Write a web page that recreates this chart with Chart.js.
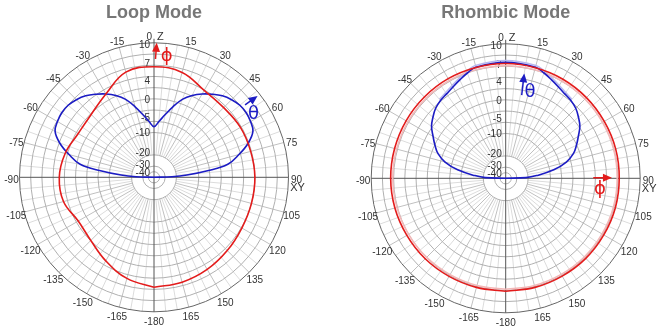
<!DOCTYPE html>
<html>
<head>
<meta charset="utf-8">
<script src="https://cdn.jsdelivr.net/npm/chart.js@4.4.1/dist/chart.umd.min.js"></script>
<style>
html, body { margin: 0; padding: 0; background: #fff; }
#wrap { position: relative; width: 661px; height: 330px; }
.box { position: absolute; top: 0; height: 330px; }
</style>
</head>
<body>
<div id="wrap">
  <div class="box" style="left:0;width:330px"><canvas id="loopChart"></canvas></div>
  <div class="box" style="left:330px;width:331px"><canvas id="rhombicChart"></canvas></div>
</div>
<script>
// 目盛り
const dbTicks = [10, 7, 4, 0, -5, -10, -20, -30, -40];
const angleLabels = [0, 15, 30, 45, 60, 75, 90, 105, 120, 135, 150, 165,
                     -180, -165, -150, -135, -120, -105, -90, -75, -60, -45, -30, -15];

// Loop Mode (dB)
const loopPhiAngles = [-180, -165, -150, -135, -120, -105, -90, -75, -60, -45, -30, -15,
                       0, 15, 30, 45, 60, 75, 90, 105, 120, 135, 150, 165, 180];
const loopPhi = [6.15, 5.2, 3.65, 2.2, 1.8, 3.1, 3.3, 2.75, 1.8, 2.1, 3.6, 5.95,
                 6.25, 5.9, 4.4, 4.05, 4.3, 4.35, 4.5, 4.5, 4.6, 5.0, 5.5, 5.9, 6.15];
const loopThetaAngles = [-90, -88, -86, -83, -80, -75, -70, -65, -60, -55, -50, -45, -40, -35, -30, -25, -20, -15, -10, -5,
                         0, 5, 10, 15, 20, 25, 30, 35, 40, 45, 50, 55, 60, 65, 70, 75, 80, 83, 86, 88, 90];
const loopTheta = [-60, -25.9, -15.9, -7.2, -1.1, 1.9, 4.4, 6.0, 6.4, 6.6, 6.5, 6.1, 5.5, 4.6, 3.6, 2.4, 0.8, -1.6, -4.2, -6.5,
                   -8.3, -6.5, -4.2, -1.6, 0.8, 2.4, 3.6, 4.6, 5.5, 6.1, 6.5, 6.6, 6.4, 6.0, 4.4, 1.9, -1.1, -7.2, -15.9, -25.9, -60];

// Rhombic Mode (dB)
const rhombicPhiAngles = loopPhiAngles;
const rhombicPhi = [6.65, 6.65, 6.7, 6.8, 6.85, 6.95, 7.0, 7.0, 7.0, 7.0, 7.0, 6.95,
                    6.95, 6.9, 6.9, 6.85, 6.8, 6.8, 6.75, 6.75, 6.7, 6.7, 6.65, 6.65, 6.65];
const rhombicPhiGhost = [6.3, 6.3, 6.35, 6.45, 6.5, 6.6, 6.65, 6.65, 6.65, 6.65, 6.65, 6.6,
                         6.6, 6.55, 6.55, 6.5, 6.45, 6.45, 6.4, 6.4, 6.35, 6.35, 6.3, 6.3, 6.3];
const rhombicThetaAngles = [-90, -88, -85, -80, -75, -70, -65, -60, -55, -50, -45, -40, -35, -30, -25, -20, -15,
                            0, 15, 20, 25, 30, 35, 40, 45, 50, 55, 60, 65, 70, 75, 80, 85, 88, 90];
const rhombicTheta = [-60, -24, -17, -9, -4.4, -1.85, -0.35, 1.0, 2.45, 3.35, 4.15, 4.6, 4.9, 5.35, 5.9, 6.5, 7.0,
                      7.15, 7.0, 6.5, 5.9, 5.35, 4.9, 4.6, 4.15, 3.35, 2.45, 1.0, -0.35, -1.85, -4.4, -9, -17, -24, -60];
const rhombicThetaGhostAngles = [-40, -35, -30, -25, -20, -15, 0, 15, 20, 25, 30, 35, 40];
const rhombicThetaGhost = [4.9, 5.2, 5.65, 6.2, 6.8, 7.3, 7.45, 7.3, 6.8, 6.2, 5.65, 5.2, 4.9];

const RED = "#e31b1b";
const BLUE = "#1c1cc4";

// dB -> 半径 (外周 10dB = 1)
const DB_MAX = 10, DB_K = 0.05, DB_FLOOR = 0.0377;
function dbToR(db) {
  const v = (Math.exp(DB_K * (db - DB_MAX)) - DB_FLOOR) / (1 - DB_FLOOR);
  return Math.max(0, v);
}
function toXY(angles, values) {
  return angles.map((a, i) => {
    const r = dbToR(values[i]);
    const t = a * Math.PI / 180;
    return { x: r * Math.sin(t), y: r * Math.cos(t) };
  });
}

const FONT = '"Liberation Sans", Arial, sans-serif';

const polarGrid = {
  id: "polarGrid",
  beforeDatasetsDraw(chart) {
    const { ctx, scales: { x, y } } = chart;
    const cx = x.getPixelForValue(0), cy = y.getPixelForValue(0);
    const R = x.getPixelForValue(1) - cx;
    ctx.save();
    ctx.lineWidth = 1;

    // 放射線
    const rIn = R * 2 / 12;
    for (let a = 0; a < 360; a += 5) {
      if (a % 90 === 0) continue;
      const t = a * Math.PI / 180;
      ctx.strokeStyle = a % 15 === 0 ? "#c0c0c0" : "#dcdcdc";
      ctx.beginPath();
      ctx.moveTo(cx + rIn * Math.sin(t), cy - rIn * Math.cos(t));
      ctx.lineTo(cx + R * Math.sin(t), cy - R * Math.cos(t));
      ctx.stroke();
    }
    // 同心円
    ctx.strokeStyle = "#b0b0b0";
    [0.5, 1, 2, 4, 5, 6, 7, 8, 9, 10, 11].forEach(k => {
      ctx.beginPath();
      ctx.arc(cx, cy, R * k / 12, 0, Math.PI * 2);
      ctx.stroke();
    });
    ctx.strokeStyle = "#666";
    ctx.beginPath();
    ctx.arc(cx, cy, R, 0, Math.PI * 2);
    ctx.stroke();

    // 軸
    ctx.strokeStyle = "#555";
    ctx.beginPath();
    ctx.moveTo(cx, cy - R - 4);
    ctx.lineTo(cx, cy + R);
    ctx.moveTo(cx - R, cy);
    ctx.lineTo(cx + R, cy);
    ctx.stroke();

    // 角度ラベル
    ctx.fillStyle = "#333";
    ctx.font = "10px " + FONT;
    ctx.textBaseline = "middle";
    for (const a of angleLabels) {
      const t = a * Math.PI / 180;
      const rl = R + 8;
      const lx = cx + rl * Math.sin(t);
      const ly = cy - rl * Math.cos(t) + 2.5;
      if (a === 0) {
        ctx.textAlign = "right";
        ctx.fillText("0", cx - 2, ly);
        ctx.textAlign = "left";
        ctx.font = "11px " + FONT;
        ctx.fillText("Z", cx + 3, ly);
        ctx.font = "10px " + FONT;
      } else if (a === 90) {
        ctx.textAlign = "center";
        ctx.fillText("90", lx, ly);
        ctx.font = "11px " + FONT;
        ctx.fillText("XY", lx + 1, ly + 8);
        ctx.font = "10px " + FONT;
      } else {
        ctx.textAlign = "center";
        ctx.fillText(String(a), lx, ly);
      }
    }

    // dB ラベル
    ctx.textAlign = "right";
    for (const db of dbTicks) {
      const ry = cy - R * dbToR(db) + 2;
      ctx.fillText(String(db), cx - 4, ry);
    }
    ctx.restore();
  },
  afterDatasetsDraw(chart, args, opts) {
    const { ctx, scales: { x, y } } = chart;
    ctx.save();
    for (const m of (opts.marks || [])) {
      const x1 = x.getPixelForValue(m.from[0]), y1 = y.getPixelForValue(m.from[1]);
      const x2 = x.getPixelForValue(m.to[0]), y2 = y.getPixelForValue(m.to[1]);
      const ang = Math.atan2(y2 - y1, x2 - x1);
      ctx.strokeStyle = m.color;
      ctx.fillStyle = m.color;
      ctx.lineWidth = 1.5;
      ctx.beginPath();
      ctx.moveTo(x1, y1);
      ctx.lineTo(x2 - 6 * Math.cos(ang), y2 - 6 * Math.sin(ang));
      ctx.stroke();
      ctx.beginPath();
      ctx.moveTo(x2, y2);
      ctx.lineTo(x2 - 9 * Math.cos(ang) + 4 * Math.sin(ang), y2 - 9 * Math.sin(ang) - 4 * Math.cos(ang));
      ctx.lineTo(x2 - 9 * Math.cos(ang) - 4 * Math.sin(ang), y2 - 9 * Math.sin(ang) + 4 * Math.cos(ang));
      ctx.closePath();
      ctx.fill();
      ctx.font = '18px "DejaVu Sans", sans-serif';
      ctx.textAlign = "center";
      ctx.textBaseline = "middle";
      ctx.fillText(m.text, x.getPixelForValue(m.at[0]), y.getPixelForValue(m.at[1]));
    }
    ctx.restore();
  }
};

function lineSet(data, color, width) {
  return {
    data, borderColor: color, borderWidth: width,
    pointRadius: 0, tension: 0.4, fill: false, clip: false
  };
}

function makeChart(id, title, datasets, pad, titlePadBottom, marks) {
  return new Chart(document.getElementById(id), {
    type: "line",
    data: { datasets },
    options: {
      responsive: true,
      maintainAspectRatio: false,
      devicePixelRatio: 1,
      animation: false,
      events: [],
      parsing: true,
      layout: { padding: pad },
      elements: { line: { capBezierPoints: false } },
      scales: {
        x: { type: "linear", min: -1, max: 1, display: false },
        y: { type: "linear", min: -1, max: 1, display: false }
      },
      plugins: {
        legend: { display: false },
        tooltip: { enabled: false },
        title: {
          display: true,
          text: title,
          color: "#777",
          font: { size: 18, weight: "bold", family: FONT },
          padding: { top: 2, bottom: titlePadBottom }
        },
        polarGrid: { marks }
      }
    },
    plugins: [polarGrid]
  });
}

makeChart("loopChart", "Loop Mode", [
  lineSet(toXY(loopPhiAngles, loopPhi), RED, 1.6),
  lineSet(toXY(loopThetaAngles, loopTheta), BLUE, 1.6)
], { left: 19.5, right: 41.5, top: 0, bottom: 18.2 }, 19.2, [
  { from: [0.011, 0.88], to: [0.02, 1.0], at: [0.094, 0.9], text: "\u03D5", color: RED },
  { from: [0.677, 0.538], to: [0.77, 0.605], at: [0.74, 0.47], text: "\u03B8", color: BLUE }
]);

makeChart("rhombicChart", "Rhombic Mode", [
  lineSet(toXY(rhombicPhiAngles, rhombicPhi), RED, 1.6),
  lineSet(toXY(rhombicThetaAngles, rhombicTheta), BLUE, 1.6),
  lineSet(toXY(rhombicPhiAngles, rhombicPhiGhost), "#f3b8b8", 1.5),
  lineSet(toXY(rhombicThetaGhostAngles, rhombicThetaGhost), "#b8b8f0", 1.5)
], { left: 41.2, right: 20.8, top: 0, bottom: 17.2 }, 20.2, [
  { from: [0.119, 0.619], to: [0.138, 0.78], at: [0.181, 0.64], text: "\u03B8", color: BLUE },
  { from: [0.651, 0.004], to: [0.79, 0.004], at: [0.7, -0.08], text: "\u03D5", color: RED }
]);
</script>
</body>
</html>
